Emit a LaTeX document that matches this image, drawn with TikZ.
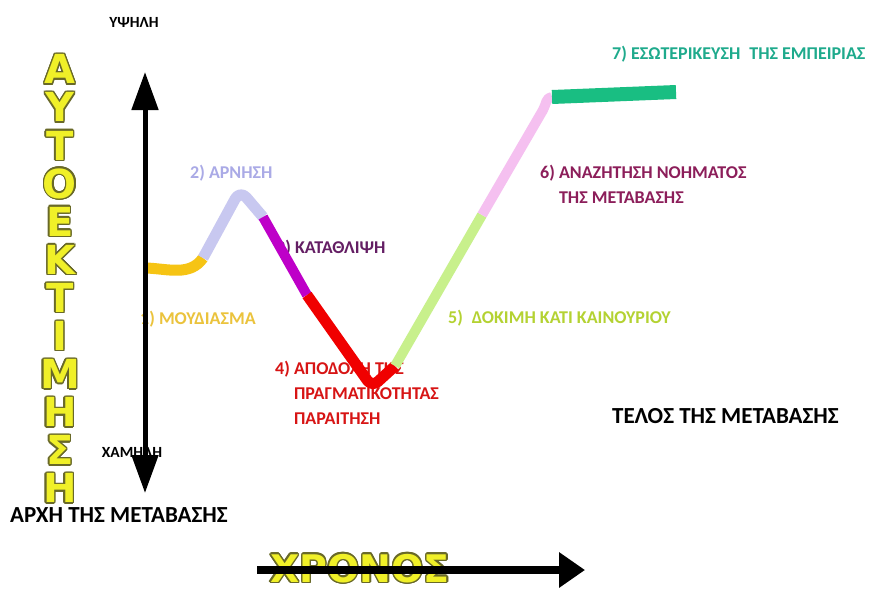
\documentclass[tikz,border=0pt]{standalone}
\usepackage{fontspec}
\usepackage{contour}
\setmainfont{Carlito}
\newfontfamily\bigfont{DejaVu Sans}
\usetikzlibrary{arrows.meta}

\definecolor{goldseg}{RGB}{246,196,20}
\definecolor{lavseg}{RGB}{200,200,240}
\definecolor{purpseg}{RGB}{190,0,200}
\definecolor{redseg}{RGB}{240,0,0}
\definecolor{greenseg}{RGB}{200,240,140}
\definecolor{pinkseg}{RGB}{245,192,240}
\definecolor{tealseg}{RGB}{25,190,130}
\definecolor{goldtxt}{RGB}{235,195,60}
\definecolor{lavtxt}{RGB}{170,170,230}
\definecolor{purptxt}{RGB}{100,30,100}
\definecolor{redtxt}{RGB}{215,20,20}
\definecolor{greentxt}{RGB}{180,210,50}
\definecolor{mauvetxt}{RGB}{140,30,90}
\definecolor{tealtxt}{RGB}{30,170,140}
\definecolor{yellfill}{RGB}{240,240,40}
\definecolor{yelledge}{RGB}{105,105,40}

\contourlength{1.4pt}
\newcommand{\yell}[1]{\contour{yelledge}{\textcolor{yellfill}{#1}}}

\tikzset{
x=1pt, y=-1pt,
seg/.style={line width=11pt, line join=round},
lbl/.style={anchor=base west, inner sep=0pt, align=left, font=\bfseries\fontsize{18}{25}\selectfont},
tag/.style={inner sep=0pt, font=\bfseries\fontsize{15.5}{18}\selectfont},
edge label/.style={anchor=base west, inner sep=0pt, font=\bfseries\fontsize{23}{26}\selectfont},
bigletter/.style={inner sep=0pt, font=\bigfont\bfseries\fontsize{40}{40}\selectfont},
}

\begin{document}
\begin{tikzpicture}
    \useasboundingbox[fill=white] (0,0) rectangle (873,590);

    % vertical word
    \foreach \l [count=\i] in {Α,Υ,Τ,Ο,Ε,Κ,Τ,Ι,Μ,Η,Σ,Η}
        \node[bigletter] (v\i) at (60, {70+38.1*(\i-1)}) {\yell{\l}};
    \node[bigletter, font=\bigfont\bfseries\fontsize{38}{38}\selectfont] (time) at (360,569) {\yell{ΧΡΟΝΟΣ}};

    % labels
    \node[tag] (high) at (134,22) {ΥΨΗΛΗ};
    \node[tag] (low) at (132,452) {ΧΑΜΗΛΗ};
    \node[edge label] (start) at (10,522) {ΑΡΧΗ ΤΗΣ ΜΕΤΑΒΑΣΗΣ};
    \node[edge label] (end) at (612,423) {ΤΕΛΟΣ ΤΗΣ ΜΕΤΑΒΑΣΗΣ};
    \node[lbl, text=goldtxt] (st1) at (140,324) {1) ΜΟΥΔΙΑΣΜΑ};
    \node[lbl, text=lavtxt] (st2) at (190,178) {2) ΑΡΝΗΣΗ};
    \node[lbl, text=purptxt] (st3) at (276,253) {3) ΚΑΤΑΘΛΙΨΗ};
    \node[lbl, text=redtxt] (st4) at (275,424) {4) ΑΠΟΔΟΧΗ ΤΗΣ\\\hphantom{4) }ΠΡΑΓΜΑΤΙΚΟΤΗΤΑΣ\\\hphantom{4) }ΠΑΡΑΙΤΗΣΗ};
    \node[lbl, text=greentxt] (st5) at (448,323) {5)\enspace ΔΟΚΙΜΗ ΚΑΤΙ ΚΑΙΝΟΥΡΙΟΥ};
    \node[lbl, text=mauvetxt] (st6) at (540,203) {6) ΑΝΑΖΗΤΗΣΗ ΝΟΗΜΑΤΟΣ\\\hphantom{6) }ΤΗΣ ΜΕΤΑΒΑΣΗΣ};
    \node[lbl, text=tealtxt] (st7) at (612,59) {7) ΕΣΩΤΕΡΙΚΕΥΣΗ\enspace ΤΗΣ ΕΜΠΕΙΡΙΑΣ};

    % curve
    \coordinate (c0) at (146,268);
    \coordinate (c1) at (203,258);
    \coordinate (pk) at (240,190);
    \coordinate (c2) at (263,217);
    \coordinate (c3) at (307,295);
    \coordinate (bt) at (372,387);
    \coordinate (c4) at (395,366);
    \coordinate (c5) at (482,215);
    \coordinate (c6) at (552,97);
    \coordinate (c7) at (676,92);

    \draw[seg, goldseg] (c0) to[out=-2,in=235] (c1);
    \draw[seg, lavseg, rounded corners=10pt] (c1) -- (pk) -- (c2);
    \draw[seg, purpseg, line width=10pt] (c2) -- (c3);
    \draw[seg, redseg, rounded corners=8pt] (c3) -- (bt) -- (c4);
    \draw[seg, greenseg, line width=10pt] (c4) -- (c5);
    \draw[seg, pinkseg, line width=10pt] (c5) -- (543,110) to[out=60,in=182] (c6);
    \draw[seg, tealseg, line width=14pt] (c6) -- (c7);

    % axes
    \coordinate (ytop) at (145,72);
    \coordinate (ybot) at (145,493);
    \coordinate (tl) at (257,570);
    \coordinate (tr) at (585,570);
    \draw[line width=5pt, {Triangle[length=38pt,width=26pt]}-{Triangle[length=38pt,width=26pt]}] (ybot) -- (ytop);
    \draw[line width=8pt, -{Triangle[length=26pt,width=34pt]}] (tl) -- (tr);

\end{tikzpicture}
\end{document}
